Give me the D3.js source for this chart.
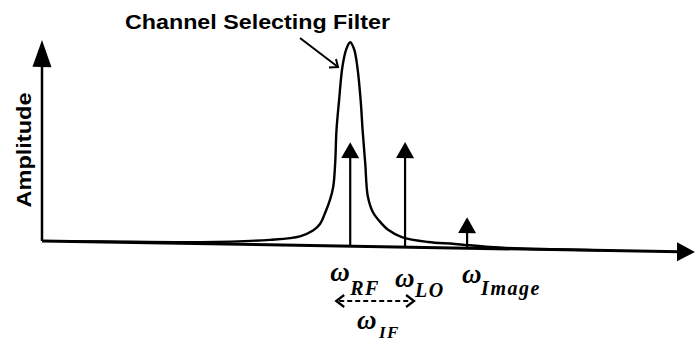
<!DOCTYPE html>
<html>
<head>
<meta charset="utf-8">
<script src="https://cdn.jsdelivr.net/npm/d3@7"></script>
<style>
  body { margin: 0; background: #fff; }
  svg { display: block; }
</style>
</head>
<body>
<div id="chart"></div>
<script>
// filter response (frequency 0..100 along the axis, amplitude 0..100)
const filterFreq = [5, 8.9, 24.2, 34.9, 39.5, 41.5, 42.6, 43.3, 44.1, 44.6, 44.9, 45.1, 45.5, 46.0, 46.6, 47.2,
  47.8, 48.3, 48.8, 49.1, 49.5, 49.9, 50.7, 51.5, 53.0, 55.1, 59.1, 63.2, 68.6, 73.2, 85.5];
const filterAmp = [0, 0.25, 0.75, 2.5, 4.5, 7.5, 11, 16, 23, 29.5, 41.5, 58, 73, 89.5, 98.5, 102,
  98.5, 89.5, 73, 58, 41.5, 25, 17, 13.5, 8.5, 5, 2.75, 2, 0.75, 0.25, 0];

// spectral lines
const toneNames = ["RF", "LO", "Image"];
const toneFreq = [47.2, 55.6, 65.1];
const toneAmp = [52, 52.5, 15.5];

const xMax = 100;
const yMax = 100.5;

const width = 696, height = 341;
const origin = { x: 42, y: 241 };
const slope = 0.965; // the frequency axis drops slightly to the right

const svg = d3.select("#chart").append("svg")
  .attr("width", width)
  .attr("height", height);

const x = d3.scaleLinear().domain([0, xMax]).range([0, 653]);
const y = d3.scaleLinear().domain([0, yMax]).range([0, -201]);

const plot = svg.append("g")
  .attr("transform", `translate(${origin.x},${origin.y}) skewY(${slope})`);

// ---- axes ----
plot.append("line")
  .attr("x1", 0).attr("y1", 0)
  .attr("x2", 0).attr("y2", y(yMax) + 25)
  .attr("stroke", "#000").attr("stroke-width", 2.5);
plot.append("path")
  .attr("d", `M0,${y(yMax)} L-9.5,${y(yMax) + 27} L9.5,${y(yMax) + 27} Z`)
  .attr("fill", "#000");

plot.append("line")
  .attr("x1", 0).attr("y1", 0)
  .attr("x2", x(xMax) - 15).attr("y2", 0)
  .attr("stroke", "#000").attr("stroke-width", 3);
plot.append("path")
  .attr("d", `M${x(xMax)},0 L${x(xMax) - 18},-9.5 L${x(xMax) - 18},9.5 Z`)
  .attr("fill", "#000");

// ---- filter ----
const line = d3.line()
  .x((d, i) => x(filterFreq[i]))
  .y(d => y(d))
  .curve(d3.curveCatmullRom.alpha(0.5));

plot.append("path")
  .datum(filterAmp)
  .attr("d", line)
  .attr("fill", "none")
  .attr("stroke", "#000")
  .attr("stroke-width", 2.4);

// ---- tones ----
const tones = plot.selectAll(".tone")
  .data(toneNames)
  .enter()
  .append("g")
  .attr("class", "tone");

tones.append("line")
  .attr("x1", (d, i) => x(toneFreq[i]))
  .attr("x2", (d, i) => x(toneFreq[i]))
  .attr("y1", 0)
  .attr("y2", (d, i) => y(toneAmp[i]) + 14)
  .attr("stroke", "#000")
  .attr("stroke-width", 2.2);

tones.append("path")
  .attr("d", (d, i) => {
    const cx = x(toneFreq[i]), ty = y(toneAmp[i]);
    return `M${cx},${ty} L${cx - 9},${ty + 16} L${cx + 9},${ty + 16} Z`;
  })
  .attr("fill", "#000");

// ---- labels ----
const sx = f => origin.x + x(f);

svg.append("text")
  .attr("x", 125).attr("y", 29)
  .attr("font-family", "Liberation Sans, Arial, sans-serif")
  .attr("font-weight", "bold")
  .attr("font-size", 21)
  .attr("textLength", 265)
  .attr("lengthAdjust", "spacingAndGlyphs")
  .text("Channel Selecting Filter");

svg.append("line")
  .attr("x1", 300).attr("y1", 38)
  .attr("x2", 338).attr("y2", 67)
  .attr("stroke", "#000").attr("stroke-width", 2);
svg.append("path")
  .attr("d", "M329,67.5 L338,67 L336,59")
  .attr("fill", "none")
  .attr("stroke", "#000").attr("stroke-width", 2);

svg.append("text")
  .attr("transform", "translate(31,150) rotate(-90)")
  .attr("text-anchor", "middle")
  .attr("font-family", "Liberation Sans, Arial, sans-serif")
  .attr("font-weight", "bold")
  .attr("font-size", 21)
  .attr("textLength", 115)
  .attr("lengthAdjust", "spacingAndGlyphs")
  .text("Amplitude");

const serif = "Liberation Serif, Times New Roman, serif";
// omega + subscript, offsets from each tone's position
const omegaPos = [
  { dx: -20, oy: 281, sdx: 0, sy: 295 },
  { dx: -10, oy: 287, sdx: 10, sy: 297 },
  { dx: -5, oy: 283, sdx: 14, sy: 295 }
];

toneNames.forEach((name, i) => {
  const p = omegaPos[i];
  const cx = sx(toneFreq[i]);
  svg.append("text")
    .attr("x", cx + p.dx).attr("y", p.oy)
    .attr("font-family", serif)
    .attr("font-style", "italic")
    .attr("font-weight", "bold")
    .attr("font-size", 27)
    .text("\u03c9");
  svg.append("text")
    .attr("x", cx + p.sdx).attr("y", p.sy)
    .attr("font-family", serif)
    .attr("font-style", "italic")
    .attr("font-weight", "bold")
    .attr("font-size", 20)
    .attr("letter-spacing", 1.5)
    .text(name);
});

// IF spacing between RF and LO
const ifY = 301;
const ifL = sx(toneFreq[0]) - 14, ifR = sx(toneFreq[1]) + 9;
svg.append("line")
  .attr("x1", ifL + 3).attr("x2", ifR - 3)
  .attr("y1", ifY).attr("y2", ifY)
  .attr("stroke", "#000").attr("stroke-width", 2)
  .attr("stroke-dasharray", "5,3");
svg.append("path")
  .attr("d", `M${ifL + 8},${ifY - 6} L${ifL},${ifY} L${ifL + 8},${ifY + 6}`)
  .attr("fill", "none").attr("stroke", "#000").attr("stroke-width", 2.2);
svg.append("path")
  .attr("d", `M${ifR - 8},${ifY - 6} L${ifR},${ifY} L${ifR - 8},${ifY + 6}`)
  .attr("fill", "none").attr("stroke", "#000").attr("stroke-width", 2.2);

svg.append("text")
  .attr("x", 357).attr("y", 329)
  .attr("font-family", serif)
  .attr("font-style", "italic")
  .attr("font-weight", "bold")
  .attr("font-size", 27)
  .text("\u03c9");
svg.append("text")
  .attr("x", 379).attr("y", 338)
  .attr("font-family", serif)
  .attr("font-style", "italic")
  .attr("font-weight", "bold")
  .attr("font-size", 17)
  .attr("letter-spacing", 1.5)
  .text("IF");
</script>
</body>
</html>
